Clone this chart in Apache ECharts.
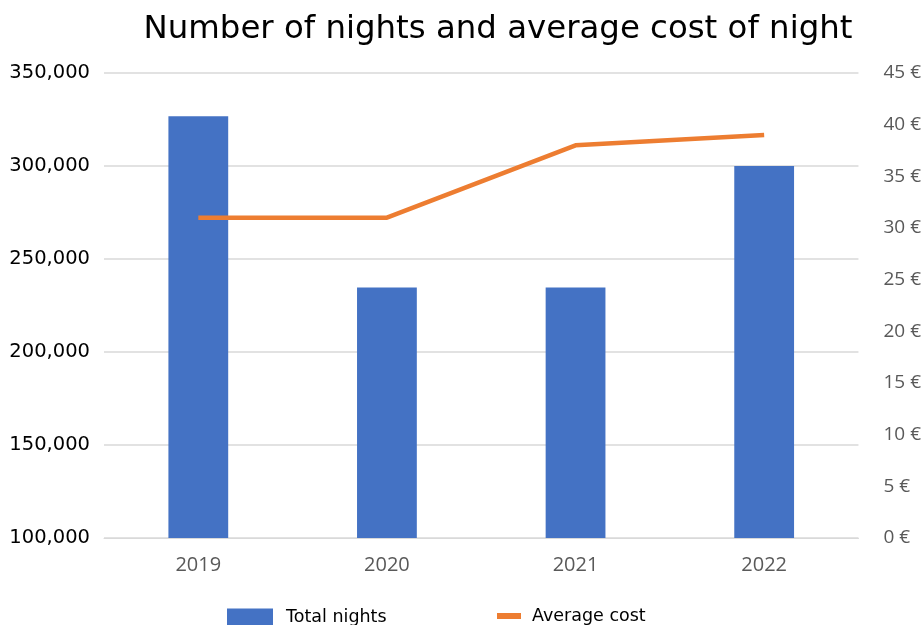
<!DOCTYPE html>
<html>
<head>
<meta charset="utf-8">
<script src="https://cdn.jsdelivr.net/npm/echarts@6/dist/echarts.min.js"></script>
<style>
  html, body { margin: 0; padding: 0; background: #ffffff; }
  #chart { width: 924px; height: 625px; }
</style>
</head>
<body>
<div id="chart"></div>
<script>
// Yearly figures
const years = ['2019', '2020', '2021', '2022'];
const totalNights = [326700, 234700, 234700, 300000];
const averageCost = [31, 31, 38, 39];

// Axis ranges
const nightsAxis = { min: 100000, max: 350000, step: 50000 };
const costAxis = { min: 0, max: 45, step: 5 };

const chart = echarts.init(document.getElementById('chart'), null, { renderer: 'canvas' });

chart.setOption({
  animation: false,
  backgroundColor: '#ffffff',
  title: {
    text: 'Number of nights and average cost of night',
    left: 493,
    textAlign: 'center',
    top: 9,
    textStyle: {
      fontFamily: 'DejaVu Sans',
      fontSize: 32.4,
      fontWeight: 'normal',
      color: '#000000'
    }
  },
  legend: [
    {
      data: [{ name: 'Total nights', icon: 'rect' }],
      left: 227,
      top: 608,
      padding: 0,
      itemWidth: 46,
      itemHeight: 17,
      textStyle: { fontFamily: 'DejaVu Sans', fontSize: 17.5, color: '#000000', padding: [0, 0, 0, 8] }
    },
    {
      data: [{ name: 'Average cost', icon: 'rect' }],
      left: 497,
      top: 607,
      padding: 0,
      itemWidth: 24,
      itemHeight: 6,
      textStyle: { fontFamily: 'DejaVu Sans', fontSize: 17.5, color: '#000000', padding: [0, 0, 0, 6] }
    }
  ],
  grid: { left: 104, right: 65, top: 73, bottom: 87 },
  xAxis: {
    type: 'category',
    data: years,
    axisLine: { show: true, lineStyle: { color: '#d9d9d9', width: 1 } },
    axisTick: { show: false },
    axisLabel: { color: '#595959', fontFamily: 'Open Sans', fontSize: 20, margin: 17 }
  },
  yAxis: [
    {
      type: 'value',
      min: nightsAxis.min,
      max: nightsAxis.max,
      interval: nightsAxis.step,
      axisLine: { show: false },
      axisTick: { show: false },
      splitLine: { lineStyle: { color: '#d9d9d9', width: 1.5 } },
      axisLabel: {
        color: '#000000',
        fontFamily: 'DejaVu Sans',
        fontSize: 19.5,
        margin: 14,
        formatter: v => v.toLocaleString('en-US')
      }
    },
    {
      type: 'value',
      position: 'right',
      min: costAxis.min,
      max: costAxis.max,
      interval: costAxis.step,
      axisLine: { show: false },
      axisTick: { show: false },
      splitLine: { show: false },
      axisLabel: {
        color: '#595959',
        fontFamily: 'Open Sans',
        fontSize: 19,
        margin: 25,
        formatter: '{value} €'
      }
    }
  ],
  series: [
    {
      name: 'Total nights',
      type: 'bar',
      yAxisIndex: 0,
      data: totalNights,
      barWidth: '31.7%',
      itemStyle: { color: '#4472C4' }
    },
    {
      name: 'Average cost',
      type: 'line',
      yAxisIndex: 1,
      data: averageCost,
      symbol: 'none',
      lineStyle: { color: '#ED7D31', width: 4.5 },
      itemStyle: { color: '#ED7D31' }
    }
  ]
});
</script>
</body>
</html>
